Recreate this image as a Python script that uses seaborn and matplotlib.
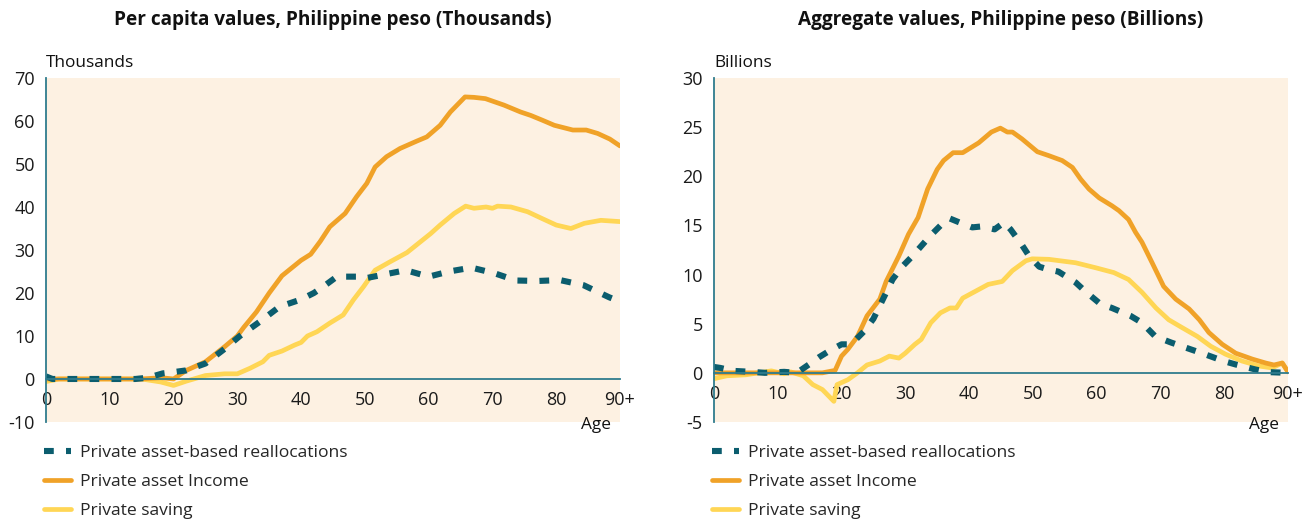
import matplotlib
matplotlib.use("Agg")
import matplotlib.pyplot as plt
import seaborn as sns

# ---------------- data ----------------
# Per capita values (thousands of pesos)
pc_income_age = [0, 5, 10, 15, 18, 20, 22, 25, 28, 30, 31, 33, 35, 37, 40, 41.5, 43, 44.5,
                 46.9, 48.7, 50.3, 51.6, 53.4, 55.5, 58.1, 59.7, 61.8, 63.4, 65.7, 67.1,
                 68.9, 71.8, 74.4, 76, 77.8, 79.7, 82.6, 84.7, 86.5, 88.4, 90]
pc_income = [0, 0, 0, 0, 0.3, 0, 2, 4, 7.5, 10, 12, 15.6, 20, 24, 27.6, 29, 32, 35.4,
             38.5, 42.4, 45.5, 49.3, 51.7, 53.6, 55.3, 56.3, 59, 62.1, 65.6, 65.5,
             65.2, 63.7, 62.1, 61.3, 60.2, 59, 57.9, 57.9, 57.1, 55.8, 54.2]

pc_saving_age = [0, 2, 5, 10, 15, 18, 20, 22, 25, 28, 30, 32, 34, 35, 37, 39, 40, 41, 42.5,
                 44.5, 46.6, 48.2, 49.8, 51.6, 54, 56.6, 58.7, 60.3, 61.8, 64, 65.8, 67.1,
                 69, 70, 70.8, 72.9, 75.5, 77.8, 80, 82.3, 84.4, 87, 90]
pc_saving = [-0.6, 0, 0, 0, 0, -0.7, -1.5, -0.5, 0.8, 1.2, 1.2, 2.5, 4, 5.5, 6.5, 7.9, 8.5, 10, 11,
             13, 14.9, 18.4, 21.5, 25.3, 27.3, 29.4, 31.9, 33.8, 35.8, 38.5, 40.2, 39.7,
             40, 39.7, 40.2, 40, 38.9, 37.3, 35.8, 35, 36.2, 36.9, 36.6]

pc_realloc_age = [0, 1, 3, 6, 10, 14, 16, 18.3, 20, 22, 25, 28, 30.4, 33.5, 36.6, 40, 42,
                  43.5, 45.6, 48.7, 50, 52.7, 56.4, 60, 63.2, 66.7, 70.3, 73.7, 77.2, 80.6,
                  84.3, 88.3, 90]
pc_realloc = [0.6, 0, 0, 0, 0, 0, 0.3, 1.3, 1.6, 2, 3.6, 7, 10, 13.3, 16.8, 18.5, 20,
              21.5, 23.8, 23.8, 23.4, 24.2, 25.3, 23.8, 25, 25.9, 24.6, 22.9, 22.8, 23,
              21.8, 19, 18]

# Aggregate values (billions of pesos)
ag_income_age = [0, 5, 10, 15, 17, 19, 20, 21, 22.5, 24, 26, 27, 29, 30.5, 32, 33.5, 35, 36,
                 37.5, 39, 40, 41.5, 43.5, 44.9, 46, 46.8, 48.3, 50.7, 52.5, 54.6, 56.2,
                 57.5, 58.8, 60.4, 62.4, 63.5, 65, 66.1, 67.1, 68.7, 70.5, 72.4, 74.5,
                 76.1, 77.6, 79.7, 81.8, 84.4, 86.5, 87.8, 89.1, 90]
ag_income = [0, 0, 0, 0, 0, 0.25, 1.7, 2.4, 3.7, 5.8, 7.5, 9.3, 11.9, 14.1, 15.8, 18.7, 20.7,
             21.6, 22.4, 22.4, 22.8, 23.4, 24.5, 24.9, 24.5, 24.5, 23.8, 22.5, 22.1, 21.6,
             20.9, 19.7, 18.7, 17.8, 17, 16.5, 15.6, 14.3, 13.3, 11.2, 8.8, 7.5, 6.5, 5.4,
             4.1, 2.9, 2, 1.4, 1, 0.8, 1, 0.1]

ag_saving_age = [0, 2, 5, 7, 9, 11, 12, 14, 15.5, 17, 18.8, 19.3, 21, 22.5, 24, 26, 27.5, 29,
                 30, 31.5, 32.5, 34, 35.5, 37, 38, 39, 41, 43, 45.2, 46.8, 48.9, 49.9, 52.5,
                 56.7, 59.8, 62.7, 65, 67.1, 69.3, 71.3, 73.4, 75.8, 77.9, 80.2, 82.8, 85.4,
                 87.5, 89.1, 90]
ag_saving = [-0.6, -0.3, -0.2, 0, 0.2, -0.1, 0.1, -0.3, -1.2, -1.7, -2.9, -1.2, -0.7, 0, 0.8,
             1.2, 1.7, 1.5, 2, 2.9, 3.4, 5.1, 6.1, 6.6, 6.6, 7.6, 8.3, 9, 9.3, 10.4, 11.4,
             11.6, 11.55, 11.2, 10.7, 10.2, 9.5, 8.2, 6.6, 5.4, 4.6, 3.7, 2.7, 1.9, 1.2,
             0.7, 0.5, 1, 0.1]

ag_realloc_age = [0, 1, 3, 6, 8, 11, 13, 15, 16.5, 18, 20, 21.5, 23.5, 25, 26.5, 28, 29.5,
                  31, 32.5, 34, 36, 37, 38.5, 40.5, 42, 44, 45.5, 46.5, 48.3, 49.4, 51,
                  52.5, 54, 56.7, 58.2, 60.6, 62.4, 65.3, 67.1, 69.2, 71.6, 74.7, 76.5,
                  79.9, 81.8, 84.9, 87, 90]
ag_realloc = [0.6, 0.5, 0.2, 0.1, 0, 0.1, 0, 0.9, 1.6, 2.2, 2.9, 2.9, 4.2, 5.5, 7.5, 9.5,
              10.8, 11.8, 12.9, 14, 15.3, 15.7, 15.3, 14.8, 14.9, 14.6, 15.3, 14.6, 13,
              11.9, 10.8, 10.5, 10.3, 9.2, 8.3, 7, 6.6, 5.8, 5.1, 3.7, 3.1, 2.4, 2, 1.2,
              0.85, 0.34, 0.07, 0]

x_ticks = list(range(0, 91, 5))
x_labels = ["0", "", "10", "", "20", "", "30", "", "40", "", "50", "",
            "60", "", "70", "", "80", "", "90+"]

labels = ["Private asset-based reallocations", "Private asset Income", "Private saving"]

# ---------------- style ----------------
TEAL = "#0b5d6e"
ORANGE = "#f0a228"
YELLOW = "#ffd655"
BG = "#fdf1e2"
SPINE = "#2f7c8d"

sns.set_theme(style="white")
plt.rcParams["font.family"] = ["Open Sans", "DejaVu Sans"]

fig = plt.figure(figsize=(13.1, 5.2), dpi=100)
ax1 = fig.add_axes([0.0351, 0.1885, 0.4382, 0.6615])
ax2 = fig.add_axes([0.5450, 0.1885, 0.4382, 0.6615])

panels = [
    (ax1, "Per capita values, Philippine peso (Thousands)", "Thousands",
     (-10, 70), list(range(-10, 71, 10)),
     [(pc_realloc_age, pc_realloc), (pc_income_age, pc_income), (pc_saving_age, pc_saving)]),
    (ax2, "Aggregate values, Philippine peso (Billions)", "Billions",
     (-5, 30), list(range(-5, 31, 5)),
     [(ag_realloc_age, ag_realloc), (ag_income_age, ag_income), (ag_saving_age, ag_saving)]),
]

for ax, title, unit, ylim, yticks, series in panels:

    ax.set_facecolor(BG)

    # yellow first, then orange, teal dashes on top
    sns.lineplot(x=series[2][0], y=series[2][1], ax=ax, color=YELLOW,
                 linewidth=3.4, label=labels[2])
    sns.lineplot(x=series[1][0], y=series[1][1], ax=ax, color=ORANGE,
                 linewidth=3.4, label=labels[1])
    sns.lineplot(x=series[0][0], y=series[0][1], ax=ax, color=TEAL,
                 linewidth=4.4, label=labels[0])
    teal_line = ax.lines[-1]
    teal_line.set_dashes((1.6, 2.0))
    teal_line.set_dash_capstyle("butt")

    ax.set_xlim(0, 90)
    ax.set_ylim(*ylim)
    ax.set_xticks(x_ticks)
    ax.set_xticklabels(x_labels)
    ax.set_yticks(yticks)
    ax.set_yticklabels([str(t) for t in yticks])

    for s in ["top", "right"]:
        ax.spines[s].set_visible(False)
    ax.spines["left"].set_color(SPINE)
    ax.spines["left"].set_linewidth(1.3)
    ax.spines["bottom"].set_color(SPINE)
    ax.spines["bottom"].set_linewidth(1.3)
    ax.spines["bottom"].set_position(("data", 0))

    ax.tick_params(axis="both", direction="out", length=5, width=1.3,
                   color=SPINE, labelsize=13, labelcolor="#1a1a1a", pad=3)
    ax.tick_params(axis="x", pad=4)
    ax.set_xlabel("")
    ax.set_ylabel("")

    ax.set_title(title, fontsize=13.7, fontweight="bold", pad=38, color="#111111")
    ax.text(0.0, 1.02, unit, transform=ax.transAxes, ha="left", va="bottom",
            fontsize=12.4, color="#111111")
    ax.text(0.985, -0.01, "Age", transform=ax.transAxes, ha="right", va="center",
            fontsize=12.4, color="#111111")

    handles, labs = ax.get_legend_handles_labels()
    order = [labs.index(l) for l in labels]
    ax.legend([handles[i] for i in order], [labs[i] for i in order],
              loc="upper left", bbox_to_anchor=(-0.003, -0.066), frameon=False,
              fontsize=12.6, handlelength=1.55, handletextpad=0.5,
              labelspacing=0.74, borderaxespad=0, borderpad=0)

fig.savefig("out.png", dpi=100)
